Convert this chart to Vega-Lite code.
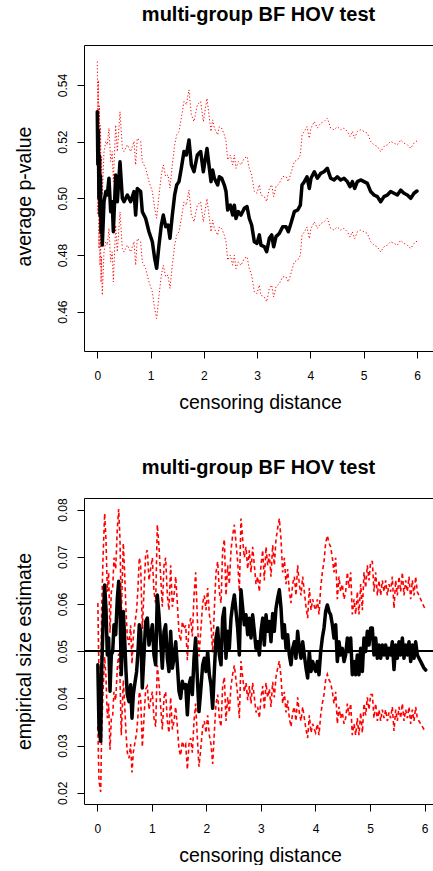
{
"$schema": "https://vega.github.io/schema/vega-lite/v6.json",
"padding": {"left": 14, "top": 5, "right": 0, "bottom": 0},
"bounds": "flush",
"spacing": 147,
"config": {
  "view": {"stroke": null},
  "font": "Liberation Sans",
  "axis": {"domainColor": "black", "tickColor": "black", "labelColor": "black", "titleColor": "black", "labelFont": "Liberation Sans", "titleFont": "Liberation Sans", "labelFontSize": 12, "titleFontSize": 19.5, "titleFontWeight": "normal", "tickSize": 7, "grid": false, "domainWidth": 1, "tickWidth": 1},
  "title": {"font": "Liberation Sans", "fontSize": 20, "fontWeight": "bold", "color": "black", "anchor": "middle", "frame": "group", "baseline": "alphabetic", "offset": 20}
},
"datasets": {
"top": [
{"x":0,"m":0.5306,"u":0.5483,"l":0.5129},
{"x":0.01,"m":0.512,"u":0.5297,"l":0.4943},
{"x":0.02,"m":0.524,"u":0.5417,"l":0.5063},
{"x":0.03,"m":0.5,"u":0.5177,"l":0.4823},
{"x":0.04,"m":0.515,"u":0.5327,"l":0.4973},
{"x":0.05,"m":0.494,"u":0.5117,"l":0.4763},
{"x":0.06,"m":0.508,"u":0.5257,"l":0.4903},
{"x":0.07,"m":0.488,"u":0.5057,"l":0.4703},
{"x":0.08,"m":0.497,"u":0.5147,"l":0.4793},
{"x":0.094,"m":0.4835,"u":0.5012,"l":0.4658},
{"x":0.126,"m":0.4988,"u":0.5165,"l":0.4811},
{"x":0.16,"m":0.5024,"u":0.5201,"l":0.4847},
{"x":0.188,"m":0.5012,"u":0.5189,"l":0.4835},
{"x":0.219,"m":0.5071,"u":0.5248,"l":0.4894},
{"x":0.251,"m":0.4953,"u":0.513,"l":0.4776},
{"x":0.28,"m":0.4988,"u":0.5165,"l":0.4811},
{"x":0.301,"m":0.4882,"u":0.5059,"l":0.4705},
{"x":0.345,"m":0.5082,"u":0.5259,"l":0.4905},
{"x":0.376,"m":0.4988,"u":0.5165,"l":0.4811},
{"x":0.426,"m":0.5129,"u":0.5306,"l":0.4952},
{"x":0.47,"m":0.5,"u":0.5177,"l":0.4823},
{"x":0.501,"m":0.4988,"u":0.5165,"l":0.4811},
{"x":0.564,"m":0.5012,"u":0.5189,"l":0.4835},
{"x":0.626,"m":0.4988,"u":0.5165,"l":0.4811},
{"x":0.689,"m":0.5024,"u":0.5201,"l":0.4847},
{"x":0.72,"m":0.4941,"u":0.5118,"l":0.4764},
{"x":0.751,"m":0.5035,"u":0.5212,"l":0.4858},
{"x":0.814,"m":0.5024,"u":0.5201,"l":0.4847},
{"x":0.845,"m":0.4953,"u":0.513,"l":0.4776},
{"x":0.908,"m":0.4929,"u":0.5106,"l":0.4752},
{"x":0.97,"m":0.4882,"u":0.5059,"l":0.4705},
{"x":1.033,"m":0.4847,"u":0.5024,"l":0.467},
{"x":1.077,"m":0.4788,"u":0.4965,"l":0.4611},
{"x":1.114,"m":0.4753,"u":0.493,"l":0.4576},
{"x":1.158,"m":0.4835,"u":0.5012,"l":0.4658},
{"x":1.202,"m":0.4906,"u":0.5083,"l":0.4729},
{"x":1.239,"m":0.4941,"u":0.5118,"l":0.4764},
{"x":1.283,"m":0.49,"u":0.5077,"l":0.4723},
{"x":1.327,"m":0.4906,"u":0.5083,"l":0.4729},
{"x":1.364,"m":0.4859,"u":0.5036,"l":0.4682},
{"x":1.408,"m":0.4941,"u":0.5118,"l":0.4764},
{"x":1.452,"m":0.5012,"u":0.5189,"l":0.4835},
{"x":1.49,"m":0.5047,"u":0.5224,"l":0.487},
{"x":1.533,"m":0.5059,"u":0.5236,"l":0.4882},
{"x":1.577,"m":0.5106,"u":0.5283,"l":0.4929},
{"x":1.627,"m":0.5165,"u":0.5342,"l":0.4988},
{"x":1.671,"m":0.5153,"u":0.533,"l":0.4976},
{"x":1.721,"m":0.5206,"u":0.5383,"l":0.5029},
{"x":1.765,"m":0.5118,"u":0.5295,"l":0.4941},
{"x":1.815,"m":0.5094,"u":0.5271,"l":0.4917},
{"x":1.877,"m":0.5153,"u":0.533,"l":0.4976},
{"x":1.94,"m":0.5165,"u":0.5342,"l":0.4988},
{"x":1.99,"m":0.5094,"u":0.5271,"l":0.4917},
{"x":2.059,"m":0.5176,"u":0.5353,"l":0.4999},
{"x":2.103,"m":0.5106,"u":0.5283,"l":0.4929},
{"x":2.134,"m":0.5059,"u":0.5236,"l":0.4882},
{"x":2.165,"m":0.51,"u":0.5277,"l":0.4923},
{"x":2.197,"m":0.5071,"u":0.5248,"l":0.4894},
{"x":2.259,"m":0.5047,"u":0.5224,"l":0.487},
{"x":2.29,"m":0.5076,"u":0.5253,"l":0.4899},
{"x":2.334,"m":0.5071,"u":0.5248,"l":0.4894},
{"x":2.384,"m":0.5047,"u":0.5224,"l":0.487},
{"x":2.416,"m":0.5024,"u":0.5201,"l":0.4847},
{"x":2.447,"m":0.4959,"u":0.5136,"l":0.4782},
{"x":2.497,"m":0.4976,"u":0.5153,"l":0.4799},
{"x":2.541,"m":0.4941,"u":0.5118,"l":0.4764},
{"x":2.572,"m":0.4976,"u":0.5153,"l":0.4799},
{"x":2.603,"m":0.4929,"u":0.5106,"l":0.4752},
{"x":2.647,"m":0.4953,"u":0.513,"l":0.4776},
{"x":2.697,"m":0.4941,"u":0.5118,"l":0.4764},
{"x":2.76,"m":0.4965,"u":0.5142,"l":0.4788},
{"x":2.81,"m":0.4971,"u":0.5148,"l":0.4794},
{"x":2.853,"m":0.4929,"u":0.5106,"l":0.4752},
{"x":2.897,"m":0.4906,"u":0.5083,"l":0.4729},
{"x":2.947,"m":0.4847,"u":0.5024,"l":0.467},
{"x":2.997,"m":0.4841,"u":0.5018,"l":0.4664},
{"x":3.041,"m":0.4871,"u":0.5048,"l":0.4694},
{"x":3.072,"m":0.4835,"u":0.5012,"l":0.4658},
{"x":3.135,"m":0.4829,"u":0.5006,"l":0.4652},
{"x":3.179,"m":0.4812,"u":0.4989,"l":0.4635},
{"x":3.229,"m":0.4859,"u":0.5036,"l":0.4682},
{"x":3.273,"m":0.4871,"u":0.5048,"l":0.4694},
{"x":3.31,"m":0.4829,"u":0.5006,"l":0.4652},
{"x":3.354,"m":0.4865,"u":0.5042,"l":0.4688},
{"x":3.416,"m":0.4876,"u":0.5053,"l":0.4699},
{"x":3.479,"m":0.49,"u":0.5077,"l":0.4723},
{"x":3.542,"m":0.49,"u":0.5077,"l":0.4723},
{"x":3.585,"m":0.4882,"u":0.5059,"l":0.4705},
{"x":3.635,"m":0.4912,"u":0.5089,"l":0.4735},
{"x":3.698,"m":0.4953,"u":0.513,"l":0.4776},
{"x":3.761,"m":0.4959,"u":0.5136,"l":0.4782},
{"x":3.811,"m":0.4976,"u":0.5153,"l":0.4799},
{"x":3.842,"m":0.5047,"u":0.5224,"l":0.487},
{"x":3.886,"m":0.5059,"u":0.5236,"l":0.4882},
{"x":3.936,"m":0.5076,"u":0.5253,"l":0.4899},
{"x":3.979,"m":0.5035,"u":0.5212,"l":0.4858},
{"x":4.011,"m":0.5071,"u":0.5248,"l":0.4894},
{"x":4.073,"m":0.5094,"u":0.5271,"l":0.4917},
{"x":4.13,"m":0.5071,"u":0.5248,"l":0.4894},
{"x":4.192,"m":0.5088,"u":0.5265,"l":0.4911},
{"x":4.255,"m":0.5094,"u":0.5271,"l":0.4917},
{"x":4.317,"m":0.5106,"u":0.5283,"l":0.4929},
{"x":4.38,"m":0.5071,"u":0.5248,"l":0.4894},
{"x":4.443,"m":0.5065,"u":0.5242,"l":0.4888},
{"x":4.505,"m":0.5076,"u":0.5253,"l":0.4899},
{"x":4.568,"m":0.5065,"u":0.5242,"l":0.4888},
{"x":4.63,"m":0.5071,"u":0.5248,"l":0.4894},
{"x":4.693,"m":0.5059,"u":0.5236,"l":0.4882},
{"x":4.743,"m":0.5041,"u":0.5218,"l":0.4864},
{"x":4.787,"m":0.5059,"u":0.5236,"l":0.4882},
{"x":4.831,"m":0.5035,"u":0.5212,"l":0.4858},
{"x":4.881,"m":0.5059,"u":0.5236,"l":0.4882},
{"x":4.943,"m":0.5065,"u":0.5242,"l":0.4888},
{"x":5.006,"m":0.5059,"u":0.5236,"l":0.4882},
{"x":5.068,"m":0.5053,"u":0.523,"l":0.4876},
{"x":5.131,"m":0.5024,"u":0.5201,"l":0.4847},
{"x":5.193,"m":0.5012,"u":0.5189,"l":0.4835},
{"x":5.256,"m":0.5006,"u":0.5183,"l":0.4829},
{"x":5.318,"m":0.4988,"u":0.5165,"l":0.4811},
{"x":5.381,"m":0.5006,"u":0.5183,"l":0.4829},
{"x":5.444,"m":0.5012,"u":0.5189,"l":0.4835},
{"x":5.506,"m":0.5024,"u":0.5201,"l":0.4847},
{"x":5.569,"m":0.5018,"u":0.5195,"l":0.4841},
{"x":5.631,"m":0.5012,"u":0.5189,"l":0.4835},
{"x":5.694,"m":0.5029,"u":0.5206,"l":0.4852},
{"x":5.756,"m":0.5018,"u":0.5195,"l":0.4841},
{"x":5.819,"m":0.5012,"u":0.5189,"l":0.4835},
{"x":5.882,"m":0.5,"u":0.5177,"l":0.4823},
{"x":5.944,"m":0.5018,"u":0.5195,"l":0.4841},
{"x":6.0,"m":0.5026,"u":0.5203,"l":0.4849}
],
"bottom": [
{"x":0.01,"m":0.0471,"u":0.0602,"l":0.034},
{"x":0.031,"m":0.0337,"u":0.0449,"l":0.0225},
{"x":0.062,"m":0.0309,"u":0.0416,"l":0.0202},
{"x":0.08,"m":0.0457,"u":0.0587,"l":0.0327},
{"x":0.105,"m":0.0556,"u":0.0698,"l":0.0414},
{"x":0.135,"m":0.064,"u":0.0792,"l":0.0488},
{"x":0.159,"m":0.0591,"u":0.0737,"l":0.0445},
{"x":0.184,"m":0.0492,"u":0.0626,"l":0.0358},
{"x":0.208,"m":0.0528,"u":0.0667,"l":0.0389},
{"x":0.233,"m":0.0415,"u":0.0539,"l":0.0291},
{"x":0.257,"m":0.0492,"u":0.0626,"l":0.0358},
{"x":0.282,"m":0.0499,"u":0.0634,"l":0.0364},
{"x":0.306,"m":0.0556,"u":0.0698,"l":0.0414},
{"x":0.337,"m":0.0535,"u":0.0674,"l":0.0396},
{"x":0.367,"m":0.0612,"u":0.076,"l":0.0464},
{"x":0.392,"m":0.0648,"u":0.0801,"l":0.0495},
{"x":0.416,"m":0.0591,"u":0.0737,"l":0.0445},
{"x":0.44,"m":0.045,"u":0.0578,"l":0.0322},
{"x":0.477,"m":0.0584,"u":0.0729,"l":0.0439},
{"x":0.501,"m":0.0528,"u":0.0667,"l":0.0389},
{"x":0.526,"m":0.0457,"u":0.0587,"l":0.0327},
{"x":0.55,"m":0.0408,"u":0.0531,"l":0.0285},
{"x":0.581,"m":0.0393,"u":0.0513,"l":0.0273},
{"x":0.611,"m":0.0429,"u":0.0555,"l":0.0303},
{"x":0.636,"m":0.0358,"u":0.0473,"l":0.0243},
{"x":0.66,"m":0.0408,"u":0.0531,"l":0.0285},
{"x":0.685,"m":0.0429,"u":0.0555,"l":0.0303},
{"x":0.721,"m":0.0457,"u":0.0587,"l":0.0327},
{"x":0.746,"m":0.0499,"u":0.0634,"l":0.0364},
{"x":0.77,"m":0.0556,"u":0.0698,"l":0.0414},
{"x":0.795,"m":0.0542,"u":0.0682,"l":0.0402},
{"x":0.825,"m":0.0422,"u":0.0547,"l":0.0297},
{"x":0.856,"m":0.0492,"u":0.0626,"l":0.0358},
{"x":0.887,"m":0.0563,"u":0.0706,"l":0.042},
{"x":0.917,"m":0.057,"u":0.0714,"l":0.0426},
{"x":0.948,"m":0.0513,"u":0.065,"l":0.0376},
{"x":0.978,"m":0.0535,"u":0.0674,"l":0.0396},
{"x":1.009,"m":0.0556,"u":0.0698,"l":0.0414},
{"x":1.039,"m":0.0492,"u":0.0626,"l":0.0358},
{"x":1.07,"m":0.0471,"u":0.0602,"l":0.034},
{"x":1.1,"m":0.0619,"u":0.0768,"l":0.047},
{"x":1.131,"m":0.0577,"u":0.0721,"l":0.0433},
{"x":1.162,"m":0.052,"u":0.0658,"l":0.0382},
{"x":1.192,"m":0.0464,"u":0.0594,"l":0.0334},
{"x":1.223,"m":0.0542,"u":0.0682,"l":0.0402},
{"x":1.253,"m":0.0556,"u":0.0698,"l":0.0414},
{"x":1.284,"m":0.0485,"u":0.0618,"l":0.0352},
{"x":1.314,"m":0.0457,"u":0.0587,"l":0.0327},
{"x":1.345,"m":0.0542,"u":0.0682,"l":0.0402},
{"x":1.376,"m":0.0464,"u":0.0594,"l":0.0334},
{"x":1.406,"m":0.0485,"u":0.0618,"l":0.0352},
{"x":1.437,"m":0.052,"u":0.0658,"l":0.0382},
{"x":1.467,"m":0.0471,"u":0.0602,"l":0.034},
{"x":1.498,"m":0.0415,"u":0.0539,"l":0.0291},
{"x":1.528,"m":0.04,"u":0.0521,"l":0.0279},
{"x":1.559,"m":0.0436,"u":0.0563,"l":0.0309},
{"x":1.589,"m":0.0422,"u":0.0547,"l":0.0297},
{"x":1.62,"m":0.0429,"u":0.0555,"l":0.0303},
{"x":1.651,"m":0.0365,"u":0.0481,"l":0.0249},
{"x":1.681,"m":0.0429,"u":0.0555,"l":0.0303},
{"x":1.712,"m":0.0443,"u":0.057,"l":0.0316},
{"x":1.742,"m":0.0408,"u":0.0531,"l":0.0285},
{"x":1.773,"m":0.0485,"u":0.0618,"l":0.0352},
{"x":1.803,"m":0.0528,"u":0.0667,"l":0.0389},
{"x":1.834,"m":0.0443,"u":0.057,"l":0.0316},
{"x":1.864,"m":0.0372,"u":0.0489,"l":0.0255},
{"x":1.895,"m":0.0415,"u":0.0539,"l":0.0291},
{"x":1.932,"m":0.0471,"u":0.0602,"l":0.034},
{"x":1.962,"m":0.0485,"u":0.0618,"l":0.0352},
{"x":1.993,"m":0.0457,"u":0.0587,"l":0.0327},
{"x":2.023,"m":0.0499,"u":0.0634,"l":0.0364},
{"x":2.054,"m":0.045,"u":0.0578,"l":0.0322},
{"x":2.084,"m":0.0429,"u":0.0555,"l":0.0303},
{"x":2.115,"m":0.0379,"u":0.0497,"l":0.0261},
{"x":2.145,"m":0.0457,"u":0.0587,"l":0.0327},
{"x":2.176,"m":0.0528,"u":0.0667,"l":0.0389},
{"x":2.207,"m":0.0549,"u":0.069,"l":0.0408},
{"x":2.237,"m":0.0492,"u":0.0626,"l":0.0358},
{"x":2.268,"m":0.0471,"u":0.0602,"l":0.034},
{"x":2.298,"m":0.057,"u":0.0714,"l":0.0426},
{"x":2.329,"m":0.0591,"u":0.0737,"l":0.0445},
{"x":2.359,"m":0.0485,"u":0.0618,"l":0.0352},
{"x":2.39,"m":0.0542,"u":0.0682,"l":0.0402},
{"x":2.42,"m":0.0506,"u":0.0642,"l":0.037},
{"x":2.451,"m":0.057,"u":0.0714,"l":0.0426},
{"x":2.481,"m":0.0598,"u":0.0745,"l":0.0451},
{"x":2.512,"m":0.0619,"u":0.0768,"l":0.047},
{"x":2.543,"m":0.0584,"u":0.0729,"l":0.0439},
{"x":2.573,"m":0.0549,"u":0.069,"l":0.0408},
{"x":2.604,"m":0.0492,"u":0.0626,"l":0.0358},
{"x":2.634,"m":0.063,"u":0.0781,"l":0.0479},
{"x":2.665,"m":0.0591,"u":0.0737,"l":0.0445},
{"x":2.695,"m":0.0556,"u":0.0698,"l":0.0414},
{"x":2.726,"m":0.0577,"u":0.0721,"l":0.0433},
{"x":2.757,"m":0.0535,"u":0.0674,"l":0.0396},
{"x":2.787,"m":0.057,"u":0.0714,"l":0.0426},
{"x":2.818,"m":0.0528,"u":0.0667,"l":0.0389},
{"x":2.848,"m":0.0577,"u":0.0721,"l":0.0433},
{"x":2.879,"m":0.0542,"u":0.0682,"l":0.0402},
{"x":2.909,"m":0.0506,"u":0.0642,"l":0.037},
{"x":2.94,"m":0.052,"u":0.0658,"l":0.0382},
{"x":2.971,"m":0.0492,"u":0.0626,"l":0.0358},
{"x":3.001,"m":0.0542,"u":0.0682,"l":0.0402},
{"x":3.032,"m":0.057,"u":0.0714,"l":0.0426},
{"x":3.062,"m":0.0513,"u":0.065,"l":0.0376},
{"x":3.093,"m":0.0577,"u":0.0721,"l":0.0433},
{"x":3.123,"m":0.0542,"u":0.0682,"l":0.0402},
{"x":3.154,"m":0.0563,"u":0.0706,"l":0.042},
{"x":3.184,"m":0.052,"u":0.0658,"l":0.0382},
{"x":3.215,"m":0.058,"u":0.0725,"l":0.0435},
{"x":3.245,"m":0.0542,"u":0.0682,"l":0.0402},
{"x":3.276,"m":0.0591,"u":0.0737,"l":0.0445},
{"x":3.306,"m":0.0612,"u":0.076,"l":0.0464},
{"x":3.337,"m":0.063,"u":0.0781,"l":0.0479},
{"x":3.368,"m":0.0591,"u":0.0737,"l":0.0445},
{"x":3.398,"m":0.0528,"u":0.0667,"l":0.0389},
{"x":3.429,"m":0.0556,"u":0.0698,"l":0.0414},
{"x":3.459,"m":0.0506,"u":0.0642,"l":0.037},
{"x":3.49,"m":0.0535,"u":0.0674,"l":0.0396},
{"x":3.52,"m":0.0492,"u":0.0626,"l":0.0358},
{"x":3.551,"m":0.0471,"u":0.0602,"l":0.034},
{"x":3.581,"m":0.0506,"u":0.0642,"l":0.037},
{"x":3.612,"m":0.052,"u":0.0658,"l":0.0382},
{"x":3.642,"m":0.0485,"u":0.0618,"l":0.0352},
{"x":3.673,"m":0.0542,"u":0.0682,"l":0.0402},
{"x":3.703,"m":0.0506,"u":0.0642,"l":0.037},
{"x":3.734,"m":0.0485,"u":0.0618,"l":0.0352},
{"x":3.765,"m":0.052,"u":0.0658,"l":0.0382},
{"x":3.795,"m":0.0492,"u":0.0626,"l":0.0358},
{"x":3.826,"m":0.0464,"u":0.0594,"l":0.0334},
{"x":3.856,"m":0.0443,"u":0.057,"l":0.0316},
{"x":3.887,"m":0.0499,"u":0.0634,"l":0.0364},
{"x":3.918,"m":0.0457,"u":0.0587,"l":0.0327},
{"x":3.948,"m":0.0478,"u":0.061,"l":0.0346},
{"x":3.979,"m":0.0464,"u":0.0594,"l":0.0334},
{"x":4.003,"m":0.0457,"u":0.0587,"l":0.0327},
{"x":4.034,"m":0.0478,"u":0.061,"l":0.0346},
{"x":4.064,"m":0.045,"u":0.0578,"l":0.0322},
{"x":4.095,"m":0.0499,"u":0.0634,"l":0.0364},
{"x":4.125,"m":0.0528,"u":0.0667,"l":0.0389},
{"x":4.156,"m":0.0549,"u":0.069,"l":0.0408},
{"x":4.186,"m":0.0584,"u":0.0729,"l":0.0439},
{"x":4.217,"m":0.0598,"u":0.0745,"l":0.0451},
{"x":4.248,"m":0.0584,"u":0.0729,"l":0.0439},
{"x":4.278,"m":0.0577,"u":0.0721,"l":0.0433},
{"x":4.309,"m":0.0556,"u":0.0698,"l":0.0414},
{"x":4.339,"m":0.0528,"u":0.0667,"l":0.0389},
{"x":4.37,"m":0.0556,"u":0.0698,"l":0.0414},
{"x":4.4,"m":0.0478,"u":0.061,"l":0.0346},
{"x":4.431,"m":0.052,"u":0.0658,"l":0.0382},
{"x":4.461,"m":0.0492,"u":0.0626,"l":0.0358},
{"x":4.492,"m":0.0506,"u":0.0642,"l":0.037},
{"x":4.523,"m":0.0478,"u":0.061,"l":0.0346},
{"x":4.553,"m":0.0492,"u":0.0626,"l":0.0358},
{"x":4.584,"m":0.0528,"u":0.0667,"l":0.0389},
{"x":4.614,"m":0.0499,"u":0.0634,"l":0.0364},
{"x":4.645,"m":0.0528,"u":0.0667,"l":0.0389},
{"x":4.675,"m":0.045,"u":0.0578,"l":0.0322},
{"x":4.706,"m":0.0478,"u":0.061,"l":0.0346},
{"x":4.736,"m":0.045,"u":0.0578,"l":0.0322},
{"x":4.767,"m":0.0492,"u":0.0626,"l":0.0358},
{"x":4.797,"m":0.045,"u":0.0578,"l":0.0322},
{"x":4.828,"m":0.0506,"u":0.0642,"l":0.037},
{"x":4.859,"m":0.0457,"u":0.0587,"l":0.0327},
{"x":4.889,"m":0.0528,"u":0.0667,"l":0.0389},
{"x":4.92,"m":0.0499,"u":0.0634,"l":0.0364},
{"x":4.95,"m":0.0542,"u":0.0682,"l":0.0402},
{"x":4.981,"m":0.0513,"u":0.065,"l":0.0376},
{"x":5.011,"m":0.0549,"u":0.069,"l":0.0408},
{"x":5.042,"m":0.0549,"u":0.069,"l":0.0408},
{"x":5.072,"m":0.0492,"u":0.0626,"l":0.0358},
{"x":5.103,"m":0.0528,"u":0.0667,"l":0.0389},
{"x":5.134,"m":0.0485,"u":0.0618,"l":0.0352},
{"x":5.164,"m":0.0513,"u":0.065,"l":0.0376},
{"x":5.195,"m":0.0485,"u":0.0618,"l":0.0352},
{"x":5.225,"m":0.0513,"u":0.065,"l":0.0376},
{"x":5.256,"m":0.0492,"u":0.0626,"l":0.0358},
{"x":5.286,"m":0.0513,"u":0.065,"l":0.0376},
{"x":5.317,"m":0.0485,"u":0.0618,"l":0.0352},
{"x":5.347,"m":0.0506,"u":0.0642,"l":0.037},
{"x":5.378,"m":0.0492,"u":0.0626,"l":0.0358},
{"x":5.408,"m":0.052,"u":0.0658,"l":0.0382},
{"x":5.439,"m":0.0461,"u":0.0591,"l":0.0331},
{"x":5.47,"m":0.0513,"u":0.065,"l":0.0376},
{"x":5.5,"m":0.0485,"u":0.0618,"l":0.0352},
{"x":5.531,"m":0.052,"u":0.0658,"l":0.0382},
{"x":5.561,"m":0.0492,"u":0.0626,"l":0.0358},
{"x":5.592,"m":0.0528,"u":0.0667,"l":0.0389},
{"x":5.622,"m":0.0485,"u":0.0618,"l":0.0352},
{"x":5.653,"m":0.0513,"u":0.065,"l":0.0376},
{"x":5.684,"m":0.0492,"u":0.0626,"l":0.0358},
{"x":5.714,"m":0.052,"u":0.0658,"l":0.0382},
{"x":5.745,"m":0.0478,"u":0.061,"l":0.0346},
{"x":5.775,"m":0.0513,"u":0.065,"l":0.0376},
{"x":5.806,"m":0.0485,"u":0.0618,"l":0.0352},
{"x":5.836,"m":0.052,"u":0.0658,"l":0.0382},
{"x":5.867,"m":0.0492,"u":0.0626,"l":0.0358},
{"x":5.897,"m":0.0485,"u":0.0618,"l":0.0352},
{"x":5.928,"m":0.0478,"u":0.061,"l":0.0346},
{"x":5.959,"m":0.0471,"u":0.0602,"l":0.034},
{"x":5.989,"m":0.0464,"u":0.0594,"l":0.0334},
{"x":6.02,"m":0.046,"u":0.059,"l":0.033}
]
},
"vconcat": [
{
  "width": 349, "height": 306,
  "title": {"text": "multi-group BF HOV test"},
  "data": {"name": "top"},
  "resolve": {"axis": {"x": "independent"}},
  "layer": [
    {"mark": {"type": "line", "color": "#ff0000", "strokeWidth": 1, "strokeDash": [1.2, 2.2], "clip": true},
     "encoding": {
       "x": {"field": "x", "type": "quantitative", "scale": {"domain": [-0.2496, 6.3006], "nice": false, "zero": false},
             "axis": {"title": "censoring distance", "values": [0,1,2,3,4,5,6], "format": "d", "labelBaseline": "alphabetic", "labelPadding": 21, "titleX": 176, "titleY": 57, "titleBaseline": "alphabetic", "titleAlign": "center", "labelFlush": false, "labelOverlap": false}},
       "y": {"field": "u", "type": "quantitative", "scale": {"domain": [0.44613, 0.55412], "nice": false, "zero": false},
             "axis": {"title": "average p-value", "values": [0.46,0.48,0.5,0.52,0.54], "format": ".2f", "labelAngle": 270, "labelAlign": "center", "labelBaseline": "alphabetic", "labelPadding": 11, "titleAngle": 270, "titleAlign": "center", "titleBaseline": "alphabetic", "titleX": -54, "titleY": 151, "labelOverlap": false}}
     }},
    {"mark": {"type": "line", "color": "#ff0000", "strokeWidth": 1, "strokeDash": [1.2, 2.2], "clip": true},
     "encoding": {
       "x": {"field": "x", "type": "quantitative", "axis": null},
       "y": {"field": "l", "type": "quantitative",
             "axis": {"title": "average p-value", "values": [0.46,0.48,0.5,0.52,0.54], "format": ".2f", "labelAngle": 270, "labelAlign": "center", "labelBaseline": "alphabetic", "labelPadding": 11, "titleAngle": 270, "titleAlign": "center", "titleBaseline": "alphabetic", "titleX": -54, "titleY": 151, "labelOverlap": false}}
     }},
    {"mark": {"type": "line", "color": "#000000", "strokeWidth": 3.5, "strokeJoin": "round", "strokeCap": "round", "clip": true},
     "encoding": {
       "x": {"field": "x", "type": "quantitative", "axis": {"orient": "top", "labels": false, "ticks": false, "title": null, "domain": true}},
       "y": {"field": "m", "type": "quantitative",
             "axis": {"title": "average p-value", "values": [0.46,0.48,0.5,0.52,0.54], "format": ".2f", "labelAngle": 270, "labelAlign": "center", "labelBaseline": "alphabetic", "labelPadding": 11, "titleAngle": 270, "titleAlign": "center", "titleBaseline": "alphabetic", "titleX": -54, "titleY": 151, "labelOverlap": false}}
     }}
  ]
},
{
  "width": 349, "height": 306,
  "title": {"text": "multi-group BF HOV test"},
  "data": {"name": "bottom"},
  "resolve": {"axis": {"x": "independent"}},
  "layer": [
    {"mark": {"type": "line", "color": "#ff0000", "strokeWidth": 1.6, "strokeDash": [4, 3], "clip": true},
     "encoding": {
       "x": {"field": "x", "type": "quantitative", "scale": {"domain": [-0.2438, 6.154], "nice": false, "zero": false},
             "axis": {"title": "censoring distance", "values": [0,1,2,3,4,5,6], "format": "d", "labelBaseline": "alphabetic", "labelPadding": 21, "titleX": 176, "titleY": 57, "titleBaseline": "alphabetic", "titleAlign": "center", "labelFlush": false, "labelOverlap": false}},
       "y": {"field": "u", "type": "quantitative", "scale": {"domain": [0.01761, 0.08246], "nice": false, "zero": false},
             "axis": {"title": "empirical size estimate", "values": [0.02,0.03,0.04,0.05,0.06,0.07,0.08], "format": ".2f", "labelAngle": 270, "labelAlign": "center", "labelBaseline": "alphabetic", "labelPadding": 11, "titleAngle": 270, "titleAlign": "center", "titleBaseline": "alphabetic", "titleX": -54, "titleY": 153, "labelOverlap": false}}
     }},
    {"mark": {"type": "line", "color": "#ff0000", "strokeWidth": 1.6, "strokeDash": [4, 3], "clip": true},
     "encoding": {
       "x": {"field": "x", "type": "quantitative", "axis": null},
       "y": {"field": "l", "type": "quantitative",
             "axis": {"title": "empirical size estimate", "values": [0.02,0.03,0.04,0.05,0.06,0.07,0.08], "format": ".2f", "labelAngle": 270, "labelAlign": "center", "labelBaseline": "alphabetic", "labelPadding": 11, "titleAngle": 270, "titleAlign": "center", "titleBaseline": "alphabetic", "titleX": -54, "titleY": 153, "labelOverlap": false}}
     }},
    {"mark": {"type": "line", "color": "#000000", "strokeWidth": 3.5, "strokeJoin": "round", "strokeCap": "round", "clip": true},
     "encoding": {
       "x": {"field": "x", "type": "quantitative", "axis": {"orient": "top", "labels": false, "ticks": false, "title": null, "domain": true}},
       "y": {"field": "m", "type": "quantitative",
             "axis": {"title": "empirical size estimate", "values": [0.02,0.03,0.04,0.05,0.06,0.07,0.08], "format": ".2f", "labelAngle": 270, "labelAlign": "center", "labelBaseline": "alphabetic", "labelPadding": 11, "titleAngle": 270, "titleAlign": "center", "titleBaseline": "alphabetic", "titleX": -54, "titleY": 153, "labelOverlap": false}}
     }},
    {"mark": {"type": "rule", "color": "#000000", "strokeWidth": 1},
     "encoding": {"y": {"datum": 0.05, "type": "quantitative",
             "axis": {"title": "empirical size estimate", "values": [0.02,0.03,0.04,0.05,0.06,0.07,0.08], "format": ".2f", "labelAngle": 270, "labelAlign": "center", "labelBaseline": "alphabetic", "labelPadding": 11, "titleAngle": 270, "titleAlign": "center", "titleBaseline": "alphabetic", "titleX": -54, "titleY": 153, "labelOverlap": false}}}}
  ]
}
]
}
